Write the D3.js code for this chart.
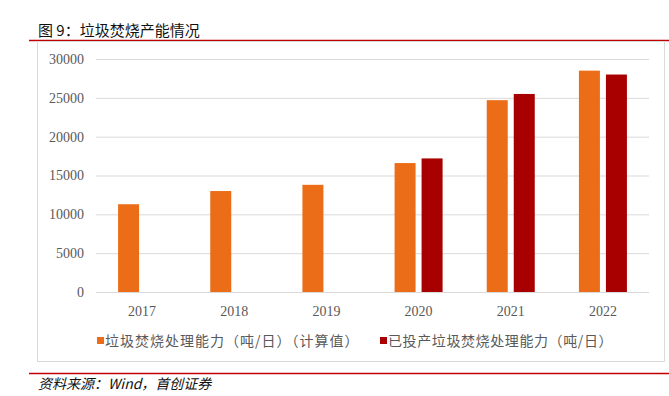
<!DOCTYPE html>
<html>
<head>
<meta charset="utf-8">
<script src="https://cdn.jsdelivr.net/npm/d3@7"></script>
<style>
  body { margin: 0; background: #fff; }
  svg { display: block; }
  .tick text { font-family: "Liberation Serif", "DejaVu Serif", serif; font-size: 14px; fill: #595959; }
</style>
</head>
<body>
<svg id="chart" width="669" height="396"></svg>
<script>
/* data */
const years = ["2017", "2018", "2019", "2020", "2021", "2022"];
const calcCapacity = [11300, 13000, 13800, 16600, 24700, 28500];
const builtCapacity = [null, null, null, 17200, 25500, 28000];
const yTicks = [0, 5000, 10000, 15000, 20000, 25000, 30000];
const seriesNames = ["垃圾焚烧处理能力（吨/日）（计算值）", "已投产垃圾焚烧处理能力（吨/日）"];
const colors = ["#EC6D17", "#A80000"];

const svg = d3.select("#chart");
const cjk = '"Noto Sans CJK SC", "Noto Sans", sans-serif';

/* title and rules */
svg.append("text")
  .attr("x", 38).attr("y", 36)
  .attr("font-family", cjk).attr("font-size", 15).attr("fill", "#111")
  .text("图 9：垃圾焚烧产能情况");

svg.append("line")
  .attr("x1", 29).attr("x2", 669).attr("y1", 40.5).attr("y2", 40.5)
  .attr("stroke", "#C00000").attr("stroke-width", 1.5);

svg.append("rect")
  .attr("x", 37.5).attr("y", 41.5).attr("width", 627).attr("height", 320)
  .attr("fill", "none").attr("stroke", "#d9d9d9");

svg.append("line")
  .attr("x1", 29).attr("x2", 669).attr("y1", 373.5).attr("y2", 373.5)
  .attr("stroke", "#C00000").attr("stroke-width", 1.5);

svg.append("text")
  .attr("x", 38).attr("y", 389)
  .attr("font-family", cjk).attr("font-size", 14).attr("font-style", "italic").attr("fill", "#111")
  .text("资料来源：Wind，首创证券");

/* scales */
const xScale = d3.scaleBand().domain(years).range([96, 649]);
const yScale = d3.scaleLinear().domain([0, 30000]).range([292, 59]);

/* grid */
svg.append("g")
  .attr("transform", "translate(96,0)")
  .call(d3.axisLeft(yScale).tickValues(yTicks).tickSize(-553).tickFormat(""))
  .call(g => g.select(".domain").remove())
  .call(g => g.selectAll("line").attr("stroke", "#d9d9d9").attr("stroke-width", 1));

/* y labels */
svg.append("g")
  .attr("transform", "translate(84,0)")
  .call(d3.axisLeft(yScale).tickValues(yTicks).tickSize(0).tickPadding(0).tickFormat(d3.format("d")))
  .call(g => g.select(".domain").remove());

/* x labels */
svg.append("g")
  .attr("transform", "translate(0,292)")
  .call(d3.axisBottom(xScale).tickSize(0).tickPadding(14))
  .call(g => g.select(".domain").remove());

/* bars */
const barW = 21, gap = 3;
const bars = svg.append("g");
bars.selectAll(".calc")
  .data(years.map((y, i) => ({ year: y, v: calcCapacity[i] })))
  .enter().append("rect")
  .attr("x", d => xScale(d.year) + xScale.bandwidth() / 2 - gap - barW)
  .attr("y", d => yScale(d.v))
  .attr("width", barW)
  .attr("height", d => yScale(0) - yScale(d.v))
  .attr("fill", colors[0]);

bars.selectAll(".built")
  .data(years.map((y, i) => ({ year: y, v: builtCapacity[i] })).filter(d => d.v != null))
  .enter().append("rect")
  .attr("x", d => xScale(d.year) + xScale.bandwidth() / 2 + gap)
  .attr("y", d => yScale(d.v))
  .attr("width", barW)
  .attr("height", d => yScale(0) - yScale(d.v))
  .attr("fill", colors[1]);

/* legend */
const legendX = [97, 380];
seriesNames.forEach((name, i) => {
  svg.append("rect")
    .attr("x", legendX[i]).attr("y", 337)
    .attr("width", 7).attr("height", 7)
    .attr("fill", colors[i]);
  svg.append("text")
    .attr("x", legendX[i] + 8).attr("y", 346)
    .attr("font-family", cjk).attr("font-size", 14).attr("fill", "#595959")
    .attr("letter-spacing", i === 0 ? 1 : 0.6)
    .text(name);
});
</script>
</body>
</html>
